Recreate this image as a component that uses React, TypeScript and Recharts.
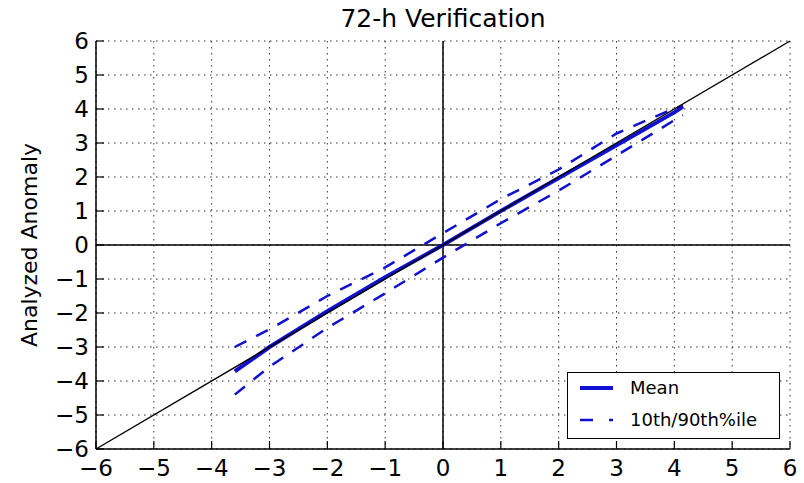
import React from "react";
import {
  LineChart,
  Line,
  XAxis,
  YAxis,
  CartesianGrid,
  ReferenceLine,
} from "recharts";

// anomaly bins (forecast anomaly) and verification stats
const xs = [-3.6, -3, -2, -1, 0, 1, 2, 3, 4, 4.15];
const meanVals = [-3.72, -3.0, -1.95, -0.95, 0.0, 1.0, 1.97, 2.93, 3.9, 4.07];
const upperVals = [-3.0, -2.48, -1.5, -0.66, 0.35, 1.35, 2.22, 3.28, 4.02, 4.1];
const lowerVals = [-4.4, -3.58, -2.44, -1.42, -0.37, 0.64, 1.6, 2.63, 3.67, 3.82];

const axisTicks = [-6, -5, -4, -3, -2, -1, 0, 1, 2, 3, 4, 5, 6];
const legendNames = ["Mean", "10th/90th%ile"];

const BLUE = "#1010d0";
const FONT = "'DejaVu Sans', sans-serif";

const rows = xs.map((x, i) => ({
  x,
  mean: meanVals[i],
  upper: upperVals[i],
  lower: lowerVals[i],
}));

const fmt = (v: number) => (v < 0 ? "\u2212" + Math.abs(v) : String(v));

const LegendBox = () => (
  <div
    style={{
      position: "absolute",
      left: 567,
      top: 372,
      width: 213,
      height: 67,
      boxSizing: "border-box",
      border: "1.5px solid #000",
      background: "#fff",
      fontFamily: FONT,
      fontSize: 18,
      zIndex: 2,
    }}
  >
    <svg width={60} height={64} style={{ position: "absolute", left: 0, top: 0 }}>
      <line x1={12} x2={45} y1={15} y2={15} stroke={BLUE} strokeWidth={4} />
      <line
        x1={12}
        x2={45}
        y1={47}
        y2={47}
        stroke={BLUE}
        strokeWidth={2.5}
        strokeDasharray="13 16"
      />
    </svg>
    <div style={{ position: "absolute", left: 62, top: 3, lineHeight: "24px" }}>
      {legendNames[0]}
    </div>
    <div style={{ position: "absolute", left: 62, top: 35, lineHeight: "24px" }}>
      {legendNames[1]}
    </div>
  </div>
);

export default function App() {
  return (
    <div
      style={{
        position: "absolute",
        left: 0,
        top: 0,
        width: 804,
        height: 483,
        background: "#fff",
        fontFamily: FONT,
      }}
    >
      <div
        style={{
          position: "absolute",
          left: 0,
          width: 886,
          top: 5,
          textAlign: "center",
          fontSize: 25,
          lineHeight: "28px",
        }}
      >
        72-h Verification
      </div>
      <div
        style={{
          position: "absolute",
          left: 30 - 150,
          top: 245 - 14,
          width: 300,
          height: 28,
          lineHeight: "28px",
          textAlign: "center",
          fontSize: 22,
          transform: "rotate(-90deg)",
        }}
      >
        Analyzed Anomaly
      </div>
      <LineChart
        width={804}
        height={483}
        data={rows}
        margin={{ top: 41, right: 14, bottom: 0, left: 0 }}
      >
        <CartesianGrid
          xAxisId="bottom"
          yAxisId="left"
          stroke="#333"
          strokeDasharray="1.5 4.5"
        />
        <XAxis
          xAxisId="bottom"
          dataKey="x"
          type="number"
          orientation="bottom"
          domain={[-6, 6]}
          ticks={axisTicks}
          interval={0}
          allowDataOverflow
          height={34}
          tickSize={-8}
          tickMargin={19}
          tickFormatter={fmt}
          tick={{ fill: "#000", fontSize: 23, fontFamily: FONT }}
          axisLine={{ stroke: "#000", strokeWidth: 1.5 }}
          tickLine={{ stroke: "#000", strokeWidth: 1.2 }}
        />
        <XAxis
          xAxisId="top"
          dataKey="x"
          type="number"
          orientation="top"
          domain={[-6, 6]}
          ticks={axisTicks}
          interval={0}
          allowDataOverflow
          height={0}
          tickSize={-8}
          tick={false}
          axisLine={{ stroke: "#000", strokeWidth: 1.5 }}
          tickLine={{ stroke: "#000", strokeWidth: 1.2 }}
        />
        <YAxis
          yAxisId="left"
          type="number"
          orientation="left"
          domain={[-6, 6]}
          ticks={axisTicks}
          interval={0}
          allowDataOverflow
          width={96}
          tickSize={-8}
          tickMargin={15}
          tickFormatter={fmt}
          tick={{ fill: "#000", fontSize: 23, fontFamily: FONT }}
          axisLine={{ stroke: "#000", strokeWidth: 1.5 }}
          tickLine={{ stroke: "#000", strokeWidth: 1.2 }}
        />
        <YAxis
          yAxisId="right"
          type="number"
          orientation="right"
          domain={[-6, 6]}
          ticks={axisTicks}
          interval={0}
          allowDataOverflow
          width={0}
          tickSize={-8}
          tick={false}
          axisLine={{ stroke: "#000", strokeWidth: 1.5 }}
          tickLine={{ stroke: "#000", strokeWidth: 1.2 }}
        />
        <ReferenceLine xAxisId="bottom" yAxisId="left" x={0} stroke="#000" strokeWidth={1.5} />
        <ReferenceLine xAxisId="bottom" yAxisId="left" y={0} stroke="#000" strokeWidth={1.5} />
        <Line
          xAxisId="bottom"
          yAxisId="left"
          dataKey="mean"
          name="Mean"
          type="linear"
          stroke={BLUE}
          strokeWidth={4}
          dot={false}
          isAnimationActive={false}
        />
        <Line
          xAxisId="bottom"
          yAxisId="left"
          dataKey="upper"
          name="10th/90th%ile"
          type="linear"
          stroke={BLUE}
          strokeWidth={2.5}
          strokeDasharray="13 11"
          dot={false}
          isAnimationActive={false}
        />
        <Line
          xAxisId="bottom"
          yAxisId="left"
          dataKey="lower"
          name="lower"
          type="linear"
          stroke={BLUE}
          strokeWidth={2.5}
          strokeDasharray="13 11"
          dot={false}
          isAnimationActive={false}
        />
        <ReferenceLine
          xAxisId="bottom"
          yAxisId="left"
          segment={[
            { x: -6, y: -6 },
            { x: 6, y: 6 },
          ]}
          stroke="#000"
          strokeWidth={1.4}
        />
      </LineChart>
      <LegendBox />
    </div>
  );
}
